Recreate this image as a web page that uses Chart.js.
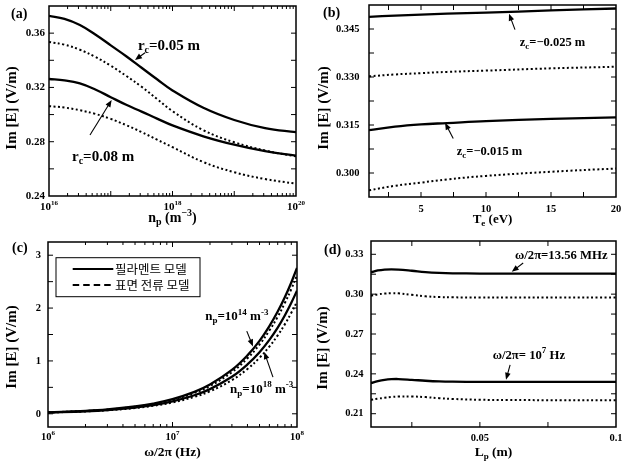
<!DOCTYPE html>
<html lang="ko">
<head>
    <meta charset="UTF-8">
    <title>Im [E] - 필라멘트 모델 / 표면 전류 모델</title>
    <script src="https://cdn.jsdelivr.net/npm/chart.js"></script>
    <style>
        body { margin: 0; background: #fff; }
        #wrap { position: relative; width: 631px; height: 465px; }
        canvas { position: absolute; }
    </style>
</head>
<body>

<div id="wrap">
    <canvas id="chartA" width="315" height="232" style="left:0;top:0"></canvas>
    <canvas id="chartB" width="316" height="232" style="left:315px;top:0"></canvas>
    <canvas id="chartC" width="315" height="233" style="left:0;top:232px"></canvas>
    <canvas id="chartD" width="316" height="233" style="left:315px;top:232px"></canvas>
</div>

<script>
    // (a) Im[E] vs plasma density
    const npDensity = [1e16, 1.78e16, 3.16e16, 5.62e16, 1e17, 1.78e17, 3.16e17, 5.62e17, 1e18, 3.16e18, 1e19, 3.16e19, 1e20];
    const aFil005 = [0.3727, 0.3705, 0.3660, 0.3590, 0.3510, 0.3430, 0.3345, 0.3260, 0.3178, 0.3050, 0.2960, 0.2900, 0.2870];
    const aSur005 = [0.3535, 0.3515, 0.3478, 0.3425, 0.3360, 0.3285, 0.3205, 0.3115, 0.3025, 0.2885, 0.2796, 0.2735, 0.2692];
    const aFil008 = [0.3262, 0.3252, 0.3230, 0.3185, 0.3128, 0.3072, 0.3022, 0.2970, 0.2920, 0.2840, 0.2778, 0.2730, 0.2698];
    const aSur008 = [0.3062, 0.3052, 0.3032, 0.3005, 0.2968, 0.2922, 0.2871, 0.2815, 0.2760, 0.2650, 0.2575, 0.2525, 0.2491];

    // (b) Im[E] vs electron temperature
    const teVals = [1, 3, 5, 7, 10, 15, 20];
    const bFil025 = [0.3488, 0.3492, 0.3495, 0.3498, 0.3501, 0.3508, 0.3514];
    const bSur025 = [0.3302, 0.3308, 0.3312, 0.3316, 0.3320, 0.3327, 0.3332];
    const bFil015 = [0.3134, 0.3145, 0.3152, 0.3156, 0.3162, 0.3169, 0.3174];
    const bSur015 = [0.2946, 0.2960, 0.2970, 0.2980, 0.2991, 0.3004, 0.3014];

    // (c) Im[E] vs frequency
    const freqHz = [1e6, 2e6, 3e6, 5e6, 7e6, 1e7, 1.5e7, 2e7, 3e7, 4e7, 5e7, 6e7, 7e7, 8e7, 9e7, 1e8];
    const cFil14 = [0.028, 0.056, 0.083, 0.139, 0.194, 0.277, 0.415, 0.553, 0.829, 1.105, 1.38, 1.66, 1.935, 2.21, 2.485, 2.76];
    const cSur14 = [0.027, 0.053, 0.079, 0.132, 0.184, 0.263, 0.394, 0.525, 0.787, 1.05, 1.31, 1.575, 1.835, 2.10, 2.36, 2.62];
    const cFil18 = [0.025, 0.048, 0.071, 0.118, 0.165, 0.235, 0.351, 0.467, 0.70, 0.933, 1.165, 1.398, 1.63, 1.865, 2.10, 2.33];
    const cSur18 = [0.024, 0.045, 0.066, 0.108, 0.151, 0.214, 0.32, 0.425, 0.637, 0.848, 1.06, 1.272, 1.484, 1.696, 1.91, 2.12];

    // (d) Im[E] vs plasma length
    const lpVals = [0.01, 0.0125, 0.015, 0.0175, 0.02, 0.025, 0.03, 0.035, 0.04, 0.05, 0.06, 0.08, 0.1];
    const dFil1356 = [0.3165, 0.3178, 0.3185, 0.3187, 0.3185, 0.3176, 0.3166, 0.3160, 0.3157, 0.3155, 0.3155, 0.3155, 0.3155];
    const dSur1356 = [0.2988, 0.2998, 0.3004, 0.3007, 0.3006, 0.2995, 0.2984, 0.2978, 0.2976, 0.2975, 0.2975, 0.2975, 0.2975];
    const dFil1e7 = [0.2331, 0.2345, 0.2355, 0.2360, 0.2361, 0.2355, 0.2348, 0.2343, 0.2341, 0.2340, 0.2340, 0.2340, 0.2340];
    const dSur1e7 = [0.2205, 0.2213, 0.2220, 0.2226, 0.2229, 0.2230, 0.2225, 0.2217, 0.2211, 0.2205, 0.2203, 0.2202, 0.2202];

    const legendNames = ['필라멘트 모델', '표면 전류 모델'];

    const SERIF = "'Liberation Serif', 'Times New Roman', serif";
    const KOREAN = "'Noto Sans CJK KR', 'Noto Sans', sans-serif";

    function logMinors(from, to) {
        const out = [];
        for (let e = from; e < to; e++) {
            for (let k = 2; k <= 9; k++) out.push(k * Math.pow(10, e));
        }
        return out;
    }

    // text with sub/superscripts: parts = [[text, ''|'sub'|'sup'], ...]
    function richText(ctx, parts, x, y, size, align, rot) {
        ctx.save();
        ctx.translate(x, y);
        if (rot) ctx.rotate(rot);
        const fontOf = m => 'bold ' + (m ? Math.round(size * 0.68) : size) + 'px ' + SERIF;
        let total = 0;
        const widths = parts.map(([t, m]) => {
            ctx.font = fontOf(m);
            const w = ctx.measureText(t).width;
            total += w;
            return w;
        });
        let cx = align === 'left' ? 0 : align === 'right' ? -total : -total / 2;
        ctx.textBaseline = 'middle';
        ctx.textAlign = 'left';
        ctx.fillStyle = '#000';
        parts.forEach(([t, m], i) => {
            ctx.font = fontOf(m);
            const dy = m === 'sub' ? size * 0.3 : m === 'sup' ? -size * 0.35 : 0;
            ctx.fillText(t, cx, dy);
            cx += widths[i];
        });
        ctx.restore();
    }

    function arrow(ctx, x0, y0, x1, y1) {
        const ang = Math.atan2(y1 - y0, x1 - x0), L = 7, W = 2.8;
        const c = Math.cos(ang), s = Math.sin(ang);
        ctx.lineWidth = 1.1;
        ctx.setLineDash([]);
        ctx.beginPath();
        ctx.moveTo(x0, y0);
        ctx.lineTo(x1 - L * 0.8 * c, y1 - L * 0.8 * s);
        ctx.stroke();
        ctx.beginPath();
        ctx.moveTo(x1, y1);
        ctx.lineTo(x1 - L * c + W * s, y1 - L * s - W * c);
        ctx.lineTo(x1 - L * c - W * s, y1 - L * s + W * c);
        ctx.closePath();
        ctx.fill();
    }

    // frame, inside ticks, labels, titles, notes, arrows and legend
    const decoPlugin = {
        id: 'deco',
        afterDraw(chart, args, o) {
            const ctx = chart.ctx, a = chart.chartArea;
            const xs = chart.scales.x, ys = chart.scales.y;
            ctx.save();
            ctx.strokeStyle = '#000';
            ctx.fillStyle = '#000';
            ctx.lineWidth = 1;
            const tick = (x0, y0, x1, y1) => { ctx.beginPath(); ctx.moveTo(x0, y0); ctx.lineTo(x1, y1); ctx.stroke(); };
            [[o.xMajor, 5], [o.xMinor, 3]].forEach(([vals, len]) => vals.forEach(v => {
                const px = xs.getPixelForValue(v);
                tick(px, a.bottom, px, a.bottom - len);
                tick(px, a.top, px, a.top + len);
            }));
            [[o.yMajor, 5], [o.yMinor, 3]].forEach(([vals, len]) => vals.forEach(v => {
                const py = ys.getPixelForValue(v);
                tick(a.left, py, a.left + len, py);
                tick(a.right, py, a.right - len, py);
            }));
            ctx.lineWidth = 1.5;
            ctx.strokeRect(a.left, a.top, a.width, a.height);

            o.xLabels.forEach(([v, parts]) => richText(ctx, parts, xs.getPixelForValue(v), a.bottom + o.xLabelGap, o.tickSize, 'center'));
            o.yLabels.forEach(v => richText(ctx, [[v.toFixed(o.yDigits), '']], a.left - o.yLabelGap, ys.getPixelForValue(v), o.tickSize, 'right'));

            richText(ctx, o.xTitle, (a.left + a.right) / 2, a.bottom + o.xTitleGap, o.xTitleSize, 'center');
            richText(ctx, [['Im [E] (V/m)', '']], o.yTitlePos[0], o.yTitlePos[1], 15, 'center', -Math.PI / 2);
            richText(ctx, [[o.letter, '']], o.letterPos[0], o.letterPos[1], 14, 'left');

            o.notes.forEach(n => richText(ctx, n.parts, xs.getPixelForValue(n.x), ys.getPixelForValue(n.y), o.noteSize, 'left'));
            o.arrows.forEach(([x0, y0, x1, y1]) => arrow(ctx,
                xs.getPixelForValue(x0), ys.getPixelForValue(y0),
                xs.getPixelForValue(x1), ys.getPixelForValue(y1)));

            if (o.legend) {
                const L = o.legend, bx = a.left + L.dx, by = a.top + L.dy;
                ctx.lineWidth = 1;
                ctx.strokeRect(bx, by, L.w, L.h);
                [[[], 11.3], [[6.5, 4], 27.3]].forEach(([dash, off], i) => {
                    ctx.setLineDash(dash);
                    ctx.lineWidth = 2;
                    tick(bx + 16.7, by + off, bx + 57.3, by + off);
                    ctx.setLineDash([]);
                    ctx.font = '12.5px ' + KOREAN;
                    ctx.textBaseline = 'middle';
                    ctx.textAlign = 'left';
                    ctx.fillText(legendNames[i], bx + 59, by + off);
                });
            }
            ctx.restore();
        }
    };

    function pts(xv, yv) {
        return xv.map((v, i) => ({ x: v, y: yv[i] }));
    }

    function line(xv, yv, dotted, name) {
        return {
            label: name,
            data: pts(xv, yv),
            borderColor: '#000',
            borderWidth: dotted ? 2 : 2.3,
            borderDash: dotted ? [2, 2.5] : [],
            pointRadius: 0,
            fill: false,
            tension: 0.4
        };
    }

    function makeChart(id, area, xCfg, yCfg, datasets, deco) {
        const cv = document.getElementById(id);
        const W = cv.width, H = cv.height;
        const hidden = { ticks: { display: false }, grid: { display: false, drawTicks: false }, border: { display: false } };
        return new Chart(cv.getContext('2d'), {
            type: 'line',
            data: { datasets: datasets },
            options: {
                responsive: false,
                animation: false,
                events: [],
                layout: { padding: { left: 0, top: area.t, right: W - area.r, bottom: 0 } },
                scales: {
                    x: Object.assign({}, hidden, xCfg, { afterFit: s => { s.height = H - area.b; } }),
                    y: Object.assign({}, hidden, yCfg, { afterFit: s => { s.width = area.l; } })
                },
                plugins: { legend: { display: false }, tooltip: { enabled: false }, deco: deco }
            },
            plugins: [decoPlugin]
        });
    }

    const sup10 = e => [['10', ''], [e, 'sup']];

    makeChart('chartA', { l: 49, t: 6, r: 296, b: 196 },
        { type: 'logarithmic', min: 1e16, max: 1e20 },
        { type: 'linear', min: 0.24, max: 0.38 },
        [line(npDensity, aFil005, false, legendNames[0]), line(npDensity, aSur005, true, legendNames[1]),
         line(npDensity, aFil008, false, legendNames[0]), line(npDensity, aSur008, true, legendNames[1])],
        {
            xMajor: [1e17, 1e18, 1e19], xMinor: logMinors(16, 20),
            yMajor: [0.26, 0.28, 0.30, 0.32, 0.34, 0.36], yMinor: [],
            xLabels: [[1e16, sup10('16')], [1e18, sup10('18')], [1e20, sup10('20')]],
            yLabels: [0.24, 0.28, 0.32, 0.36], yDigits: 2,
            tickSize: 11, xLabelGap: 11.5, yLabelGap: 4,
            xTitle: [['n', ''], ['p', 'sub'], [' (m', ''], ['−3', 'sup'], [')', '']], xTitleGap: 22.5, xTitleSize: 14,
            yTitlePos: [12.5, 108], letter: '(a)', letterPos: [11, 14], noteSize: 15,
            notes: [
                { x: 2.75e17, y: 0.3505, parts: [['r', ''], ['c', 'sub'], ['=0.05 m', '']] },
                { x: 2.36e16, y: 0.2687, parts: [['r', ''], ['c', 'sub'], ['=0.08 m', '']] }
            ],
            arrows: [[3.59e17, 0.3456, 2.47e17, 0.3402], [4.61e16, 0.285, 1.035e17, 0.3107]]
        });

    makeChart('chartB', { l: 54, t: 5, r: 301, b: 197 },
        { type: 'linear', min: 1, max: 20 },
        { type: 'linear', min: 0.2925, max: 0.3525 },
        [line(teVals, bFil025, false, legendNames[0]), line(teVals, bSur025, true, legendNames[1]),
         line(teVals, bFil015, false, legendNames[0]), line(teVals, bSur015, true, legendNames[1])],
        {
            xMajor: [2.5, 5, 7.5, 10, 12.5, 15, 17.5], xMinor: [],
            yMajor: [0.3, 0.3075, 0.315, 0.3225, 0.33, 0.3375, 0.345], yMinor: [],
            xLabels: [[5, [['5', '']]], [10, [['10', '']]], [15, [['15', '']]], [20, [['20', '']]]],
            yLabels: [0.300, 0.315, 0.330, 0.345], yDigits: 3,
            tickSize: 10.5, xLabelGap: 12.5, yLabelGap: 9.5,
            xTitle: [['T', ''], ['e', 'sub'], [' (eV)', '']], xTitleGap: 23, xTitleSize: 13,
            yTitlePos: [9, 108], letter: '(b)', letterPos: [8, 13], noteSize: 12.5,
            notes: [
                { x: 12.6, y: 0.3406, parts: [['z', ''], ['c', 'sub'], ['=−0.025 m', '']] },
                { x: 7.75, y: 0.3066, parts: [['z', ''], ['c', 'sub'], ['=−0.015 m', '']] }
            ],
            arrows: [[12.23, 0.3448, 11.77, 0.3498], [7.48, 0.3108, 6.85, 0.3157]]
        });

    makeChart('chartC', { l: 48, t: 10, r: 297, b: 195 },
        { type: 'logarithmic', min: 1e6, max: 1e8 },
        { type: 'linear', min: -0.25, max: 3.25 },
        [line(freqHz, cFil14, false, legendNames[0]), line(freqHz, cSur14, true, legendNames[1]),
         line(freqHz, cFil18, false, legendNames[0]), line(freqHz, cSur18, true, legendNames[1])],
        {
            xMajor: [1e7], xMinor: logMinors(6, 8),
            yMajor: [0, 0.5, 1, 1.5, 2, 2.5, 3], yMinor: [],
            xLabels: [[1e6, sup10('6')], [1e7, sup10('7')], [1e8, sup10('8')]],
            yLabels: [0, 1, 2, 3], yDigits: 0,
            tickSize: 10.5, xLabelGap: 10, yLabelGap: 7,
            xTitle: [['ω/2π (Hz)', '']], xTitleGap: 26, xTitleSize: 13.5,
            yTitlePos: [12.5, 115], letter: '(c)', letterPos: [12, 16], noteSize: 13,
            notes: [
                { x: 1.83e7, y: 1.83, parts: [['n', ''], ['p', 'sub'], ['=10', ''], ['14', 'sup'], [' m', ''], ['-3', 'sup']] },
                { x: 2.9e7, y: 0.46, parts: [['n', ''], ['p', 'sub'], ['=10', ''], ['18', 'sup'], [' m', ''], ['-3', 'sup']] }
            ],
            arrows: [[3.95e7, 1.564, 4.43e7, 1.275], [6.41e7, 0.693, 5.46e7, 1.167]],
            legend: { dx: 8, dy: 15.7, w: 144, h: 39 }
        });

    makeChart('chartD', { l: 56, t: 9, r: 301, b: 195 },
        { type: 'linear', min: 0.01, max: 0.1 },
        { type: 'linear', min: 0.2, max: 0.34 },
        [line(lpVals, dFil1356, false, legendNames[0]), line(lpVals, dSur1356, true, legendNames[1]),
         line(lpVals, dFil1e7, false, legendNames[0]), line(lpVals, dSur1e7, true, legendNames[1])],
        {
            xMajor: [0.025, 0.05, 0.075], xMinor: [],
            yMajor: [0.21, 0.225, 0.24, 0.255, 0.27, 0.285, 0.30, 0.315, 0.33], yMinor: [],
            xLabels: [[0.05, [['0.05', '']]], [0.1, [['0.1', '']]]],
            yLabels: [0.21, 0.24, 0.27, 0.30, 0.33], yDigits: 2,
            tickSize: 10.5, xLabelGap: 11.5, yLabelGap: 7.5,
            xTitle: [['L', ''], ['p', 'sub'], [' (m)', '']], xTitleGap: 26, xTitleSize: 13.5,
            yTitlePos: [8.5, 116], letter: '(d)', letterPos: [9, 18], noteSize: 12.7,
            notes: [
                { x: 0.0629, y: 0.3289, parts: [['ω/2π=13.56 MHz', '']] },
                { x: 0.0547, y: 0.2538, parts: [['ω/2π= 10', ''], ['7', 'sup'], [' Hz', '']] }
            ],
            arrows: [[0.0659, 0.3234, 0.0617, 0.3169], [0.0611, 0.2468, 0.0596, 0.2355]]
        });
</script>

</body>
</html>
